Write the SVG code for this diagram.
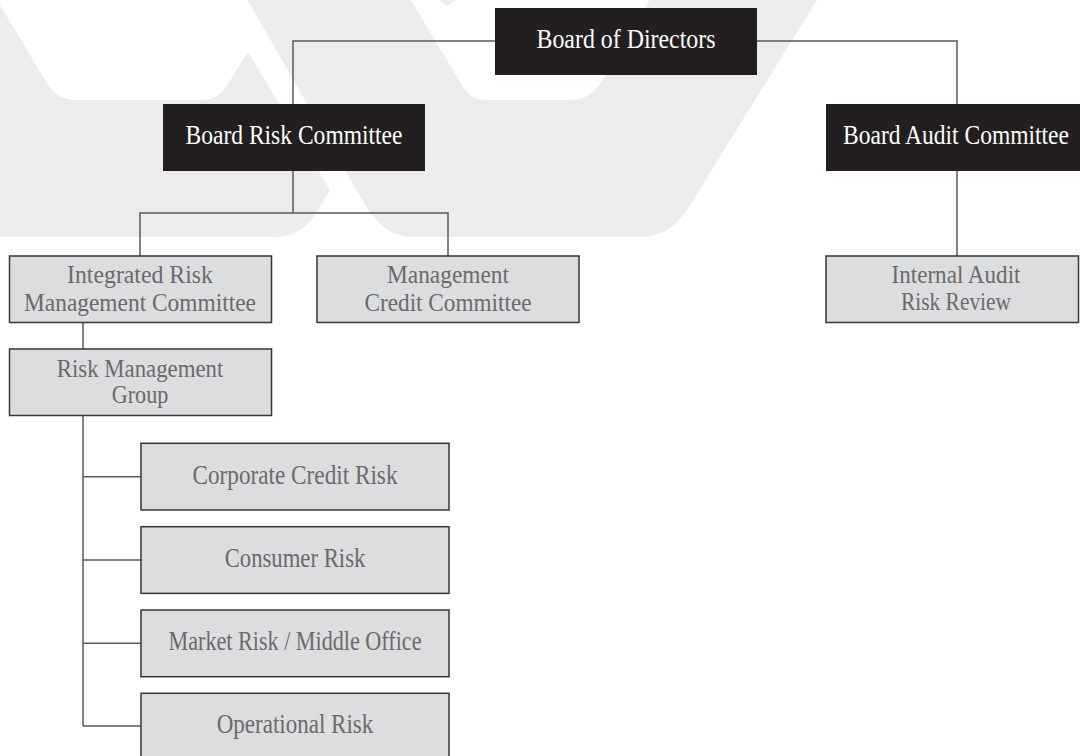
<svg xmlns="http://www.w3.org/2000/svg" width="1080" height="756" viewBox="0 0 1080 756">
<style>
.bg{fill:#ececec}
.wh{fill:#ffffff}
.dark rect{fill:#231f20}
.dark text{fill:#ffffff;font-family:"Liberation Serif","Times New Roman",serif;font-size:28px;text-anchor:middle}
.lite rect{fill:#dcdddf;stroke:#363636;stroke-width:1.5}
.lite text{fill:#6a6a6a;font-family:"Liberation Serif","Times New Roman",serif;font-size:28px;text-anchor:middle}
.lite text.s{font-size:26px}
.conn path{fill:none;stroke:#5a5a5a;stroke-width:1.5}
</style>
<rect width="1080" height="756" fill="#ffffff"/>
<g id="watermark">
<path class="bg" d="M0,0 H817 L690,205 Q671,237 640,237 H0 Z"/>
<path class="wh" d="M0,5 L0,-1 L247,-1 L364,203 Q384,237 412,237 L412,241 L272,241 L272,237 Q302,237 316,213 L330,190 L248,52 L226,87 Q218,100 200,100 L75,100 Q57,100 47,83 Z"/>
<path class="wh" d="M410,-1 L650,-1 L601,82 Q590,100 570,100 L487,100 Q471,100 463,87 Z"/>
<path class="bg" d="M439,0 L456,0 L447,6 Z"/>
</g>
<g id="connectors" class="conn">
<path d="M293,104 V41 H495"/>
<path d="M757,41 H957 V104"/>
<path d="M293,171 V213"/>
<path d="M140,256 V213 H448 V256"/>
<path d="M957,171 V256"/>
<path d="M83,322 V349"/>
<path d="M83,415 V726"/>
<path d="M83,476.7 H141"/>
<path d="M83,560 H141"/>
<path d="M83,643.3 H141"/>
<path d="M83,726 H141"/>
</g>
<g id="board-of-directors" class="dark">
<rect x="495" y="8" width="262" height="67"/>
<text x="626" y="48.3" textLength="179" lengthAdjust="spacingAndGlyphs">Board of Directors</text>
</g>
<g id="board-risk-committee" class="dark">
<rect x="163" y="104" width="262" height="67"/>
<text x="294" y="144" textLength="217" lengthAdjust="spacingAndGlyphs">Board Risk Committee</text>
</g>
<g id="board-audit-committee" class="dark">
<rect x="826" y="104" width="254" height="67"/>
<text x="956" y="144" textLength="226" lengthAdjust="spacingAndGlyphs">Board Audit Committee</text>
</g>
<g id="integrated-risk-management-committee" class="lite">
<rect x="9.5" y="256" width="262" height="66.5"/>
<text class="s" x="140" y="283.3" textLength="146" lengthAdjust="spacingAndGlyphs">Integrated Risk</text>
<text class="s" x="140" y="310.7" textLength="232" lengthAdjust="spacingAndGlyphs">Management Committee</text>
</g>
<g id="management-credit-committee" class="lite">
<rect x="317" y="256" width="262" height="66.5"/>
<text class="s" x="448" y="283.3" textLength="122" lengthAdjust="spacingAndGlyphs">Management</text>
<text class="s" x="448" y="310.7" textLength="167" lengthAdjust="spacingAndGlyphs">Credit Committee</text>
</g>
<g id="internal-audit-risk-review" class="lite">
<rect x="826" y="256" width="252.5" height="66.5"/>
<text class="s" x="956" y="283.3" textLength="129" lengthAdjust="spacingAndGlyphs">Internal Audit</text>
<text class="s" x="956" y="310" textLength="110" lengthAdjust="spacingAndGlyphs">Risk Review</text>
</g>
<g id="risk-management-group" class="lite">
<rect x="9.5" y="349" width="262" height="66.5"/>
<text class="s" x="140" y="376.7" textLength="166.5" lengthAdjust="spacingAndGlyphs">Risk Management</text>
<text class="s" x="140" y="403.3" textLength="56.6" lengthAdjust="spacingAndGlyphs">Group</text>
</g>
<g id="corporate-credit-risk" class="lite">
<rect x="141" y="443.3" width="308" height="66.7"/>
<text x="295" y="484" textLength="205" lengthAdjust="spacingAndGlyphs">Corporate Credit Risk</text>
</g>
<g id="consumer-risk" class="lite">
<rect x="141" y="526.7" width="308" height="66.7"/>
<text x="295" y="566.7" textLength="140.7" lengthAdjust="spacingAndGlyphs">Consumer Risk</text>
</g>
<g id="market-risk-middle-office" class="lite">
<rect x="141" y="610" width="308" height="66.7"/>
<text x="295" y="650" textLength="253" lengthAdjust="spacingAndGlyphs">Market Risk / Middle Office</text>
</g>
<g id="operational-risk" class="lite">
<rect x="141" y="693.3" width="308" height="66.7"/>
<text x="295" y="733.3" textLength="156.7" lengthAdjust="spacingAndGlyphs">Operational Risk</text>
</g>
</svg>
